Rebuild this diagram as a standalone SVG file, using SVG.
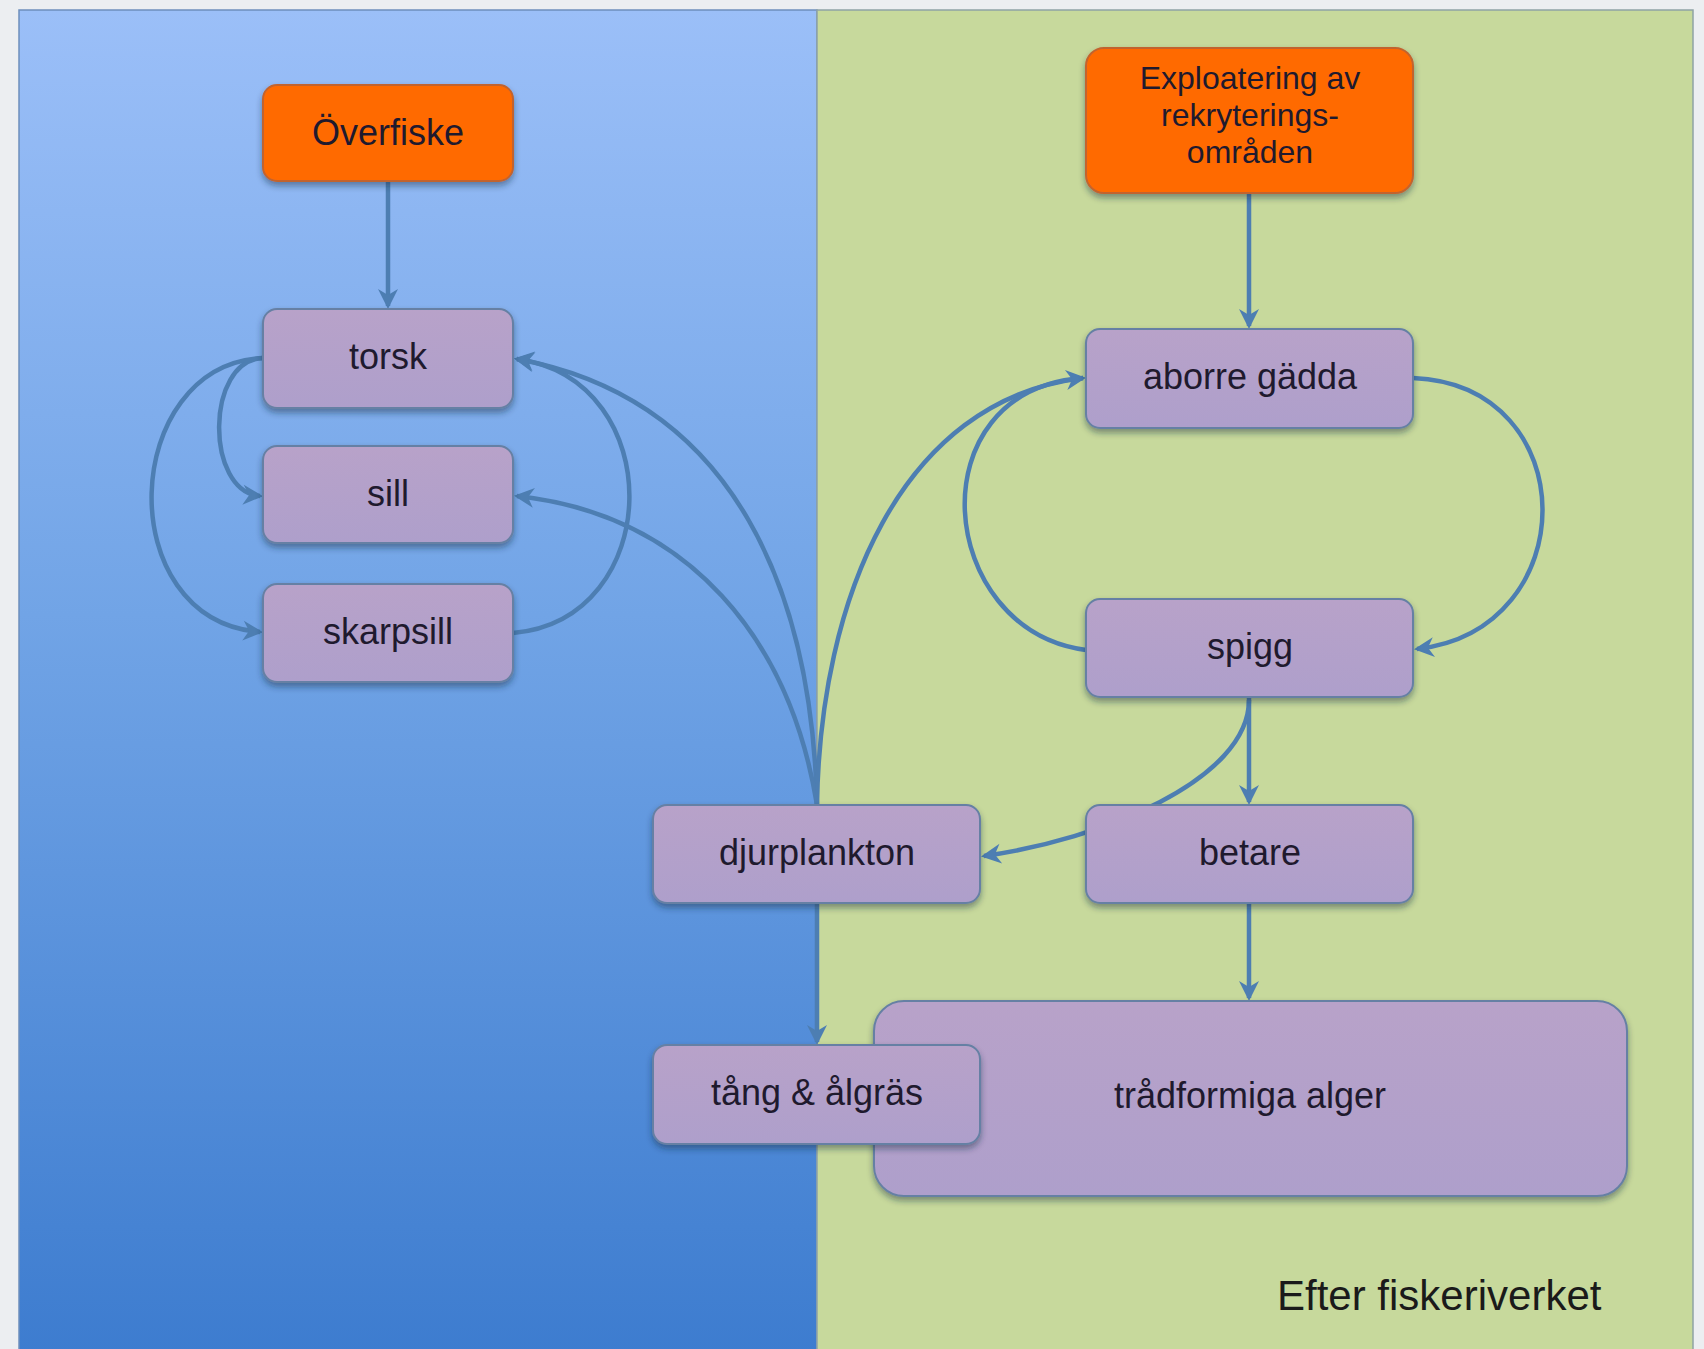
<svg xmlns="http://www.w3.org/2000/svg" width="1704" height="1349" viewBox="0 0 1704 1349">
<defs>
<linearGradient id="blueGrad" x1="0" y1="0" x2="0" y2="1">
<stop offset="0" stop-color="#9bbff8"/>
<stop offset="0.45" stop-color="#71a4e6"/>
<stop offset="1" stop-color="#3d7ccf"/>
</linearGradient>
<linearGradient id="nodeGrad" x1="0" y1="0" x2="0" y2="1">
<stop offset="0" stop-color="#b8a2c9"/>
<stop offset="1" stop-color="#ae9fcb"/>
</linearGradient>
<filter id="shadow" x="-10%" y="-10%" width="120%" height="130%">
<feDropShadow dx="0" dy="4" stdDeviation="3" flood-color="#1c2a40" flood-opacity="0.45"/>
</filter>
<marker id="arrow" viewBox="-24 -12 28 24" refX="-3" refY="0" markerWidth="28" markerHeight="24" markerUnits="userSpaceOnUse" orient="auto">
<path d="M0,0 L-20,-10 L-14,0 L-20,10 Z" fill="#4d7eb2"/>
</marker>
</defs>
<style>
.panel-blue{fill:url(#blueGrad);stroke:#6e8fbc;stroke-width:1.5}
.panel-green{fill:#c7d99c;stroke:#8ea3a5;stroke-width:1.5}
.node{fill:url(#nodeGrad);stroke:#6680a4;stroke-width:2;filter:url(#shadow)}
.src{fill:#ff6a05;stroke:#c2642e;stroke-width:2;filter:url(#shadow)}
.label{font-family:"Liberation Sans",Arial,sans-serif;font-size:36px;fill:#1f1a2e;text-anchor:middle}
.label-s{font-family:"Liberation Sans",Arial,sans-serif;font-size:32px;fill:#1f1a2e;text-anchor:middle}
.credit{font-family:"Liberation Sans",Arial,sans-serif;font-size:42px;fill:#1a1a1a}
.conn{fill:none;stroke:#4d7eb2;stroke-width:4.5;marker-end:url(#arrow)}
.connplain{fill:none;stroke:#4d7eb2;stroke-width:4.5}
</style>
<rect x="0" y="0" width="1704" height="1349" fill="#eceef1"/>
<g id="panels">
<rect class="panel-blue" x="19" y="10" width="798" height="1345"/>
<rect class="panel-green" x="817" y="10" width="876" height="1345"/>
</g>
<g id="connectors">
<path class="conn" d="M388,181 L388,306"/>
<path class="conn" d="M1249,193 L1249,326"/>
<path class="conn" d="M263,358 C205,360 205,492 260,496"/>
<path class="conn" d="M263,358 C120,365 110,620 260,632"/>
<path class="conn" d="M513,633 C665,620 670,380 517,359"/>
<path class="conn" d="M817,805 C812,600 740,400 517,359"/>
<path class="conn" d="M817,805 C790,640 690,515 517,496"/>
<path class="conn" d="M817,805 C820,600 900,400 1083,378"/>
<path class="connplain" d="M1086,650 C935,630 915,390 1083,378"/>
<path class="conn" d="M1413,378 C1585,385 1585,630 1417,649"/>
<path class="conn" d="M1249,697 L1249,802"/>
<path class="conn" d="M1249,700 C1249,780 1100,840 984,856"/>
<path class="conn" d="M1249,903 L1249,998"/>
<path class="conn" d="M817,903 L817,1042"/>
</g>
<g id="node-overfiske">
<rect class="src" x="263" y="85" width="250" height="96" rx="14"/>
<text class="label" x="388" y="145">Överfiske</text>
</g>
<g id="node-exploatering">
<rect class="src" x="1086" y="48" width="327" height="145" rx="18"/>
<text class="label-s" x="1250" y="89">Exploatering av</text>
<text class="label-s" x="1250" y="126">rekryterings-</text>
<text class="label-s" x="1250" y="163">områden</text>
</g>
<g id="node-torsk">
<rect class="node" x="263" y="309" width="250" height="99" rx="14"/>
<text class="label" x="388" y="369">torsk</text>
</g>
<g id="node-sill">
<rect class="node" x="263" y="446" width="250" height="97" rx="14"/>
<text class="label" x="388" y="506">sill</text>
</g>
<g id="node-skarpsill">
<rect class="node" x="263" y="584" width="250" height="98" rx="14"/>
<text class="label" x="388" y="644">skarpsill</text>
</g>
<g id="node-aborre">
<rect class="node" x="1086" y="329" width="327" height="99" rx="14"/>
<text class="label" x="1250" y="389">aborre gädda</text>
</g>
<g id="node-spigg">
<rect class="node" x="1086" y="599" width="327" height="98" rx="14"/>
<text class="label" x="1250" y="659">spigg</text>
</g>
<g id="node-betare">
<rect class="node" x="1086" y="805" width="327" height="98" rx="14"/>
<text class="label" x="1250" y="865">betare</text>
</g>
<g id="node-djurplankton">
<rect class="node" x="653" y="805" width="327" height="98" rx="14"/>
<text class="label" x="817" y="865">djurplankton</text>
</g>
<g id="node-tradformiga">
<rect class="node" x="874" y="1001" width="753" height="195" rx="30"/>
<text class="label" x="1250" y="1108">trådformiga alger</text>
</g>
<g id="node-tang">
<rect class="node" x="653" y="1045" width="327" height="99" rx="14"/>
<text class="label" x="817" y="1105">tång &amp; ålgräs</text>
</g>
<text class="credit" x="1277" y="1310">Efter fiskeriverket</text>
</svg>
